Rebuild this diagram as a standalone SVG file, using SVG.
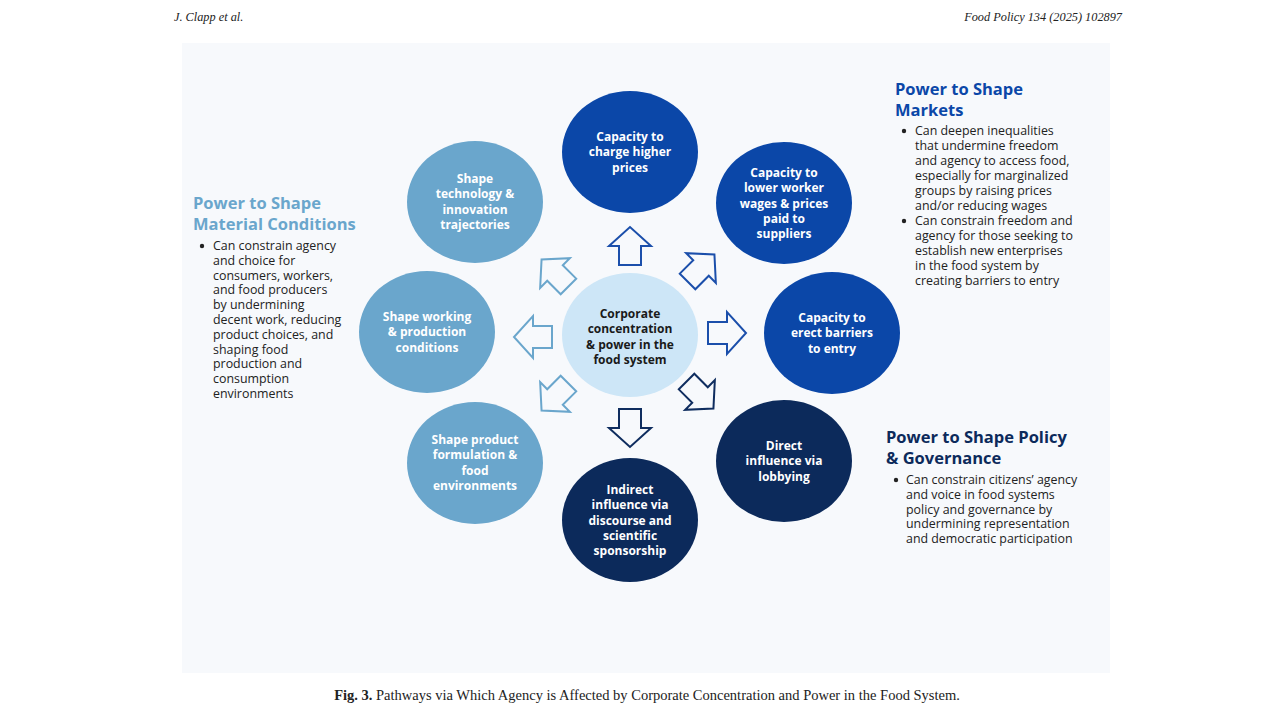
<svg xmlns="http://www.w3.org/2000/svg" width="1280" height="720" viewBox="0 0 1280 720">
<style>
.hdr{font-family:"Liberation Serif",serif;font-style:italic;font-size:12.3px;fill:#222}
.cap{font-family:"Liberation Serif",serif;font-size:14.5px;fill:#222}
.nt{font-family:"Open Sans",Lato,sans-serif;font-weight:700;font-size:12px;fill:#fff;text-anchor:middle}
.ct{font-family:"Open Sans",Lato,sans-serif;font-weight:700;font-size:12px;fill:#1a1a1a;text-anchor:middle}
.royal{fill:#0b47a8}
.navy{fill:#0c2a5b}
.light{fill:#6aa6cc}
.center{fill:#cde6f7}
.arr{fill:#f7f9fc;stroke-width:2;stroke-linejoin:miter}
.ar{stroke:#1b4fab}
.an{stroke:#0f2d5f}
.al{stroke:#6aa6cc}
.h{font-family:"Open Sans",Lato,sans-serif;font-weight:700;font-size:16.5px}
.b{font-family:"Open Sans",Lato,sans-serif;font-size:12.4px;fill:#222}
</style>
<defs>
<path id="arrow" d="M-19,-11 H0 V-21 L19,0 L0,21 V11 H-19 Z"/>
</defs>
<rect width="1280" height="720" fill="#ffffff"/>
<text class="hdr" x="174" y="21">J. Clapp et al.</text>
<text class="hdr" x="1122" y="21" text-anchor="end">Food Policy 134 (2025) 102897</text>
<rect x="182" y="43" width="928" height="630" fill="#f7f9fc"/>

<g id="connectors">
<use href="#arrow" class="arr ar" transform="translate(630,246) rotate(-90)"/>
<use href="#arrow" class="arr ar" transform="translate(701,268) rotate(-45)"/>
<use href="#arrow" class="arr ar" transform="translate(727,333)"/>
<use href="#arrow" class="arr an" transform="translate(700,395) rotate(45)"/>
<use href="#arrow" class="arr an" transform="translate(630,428) rotate(90)"/>
<use href="#arrow" class="arr al" transform="translate(555,397) rotate(135)"/>
<use href="#arrow" class="arr al" transform="translate(533,337) rotate(180)"/>
<use href="#arrow" class="arr al" transform="translate(555,273) rotate(-135)"/>
</g>

<g id="node-center">
<ellipse class="center" cx="630" cy="335" rx="68" ry="62"/>
<text class="ct" x="630" y="318"><tspan x="630">Corporate</tspan><tspan x="630" dy="15.3">concentration</tspan><tspan x="630" dy="15.3">&amp; power in the</tspan><tspan x="630" dy="15.3">food system</tspan></text>
</g>
<g id="node-prices">
<ellipse class="royal" cx="630" cy="152" rx="68" ry="61"/>
<text class="nt" x="630" y="141"><tspan x="630">Capacity to</tspan><tspan x="630" dy="15.3">charge higher</tspan><tspan x="630" dy="15.3">prices</tspan></text>
</g>
<g id="node-wages">
<ellipse class="royal" cx="784" cy="203" rx="68" ry="61"/>
<text class="nt" x="784" y="177"><tspan x="784">Capacity to</tspan><tspan x="784" dy="15.3">lower worker</tspan><tspan x="784" dy="15.3">wages &amp; prices</tspan><tspan x="784" dy="15.3">paid to</tspan><tspan x="784" dy="15.3">suppliers</tspan></text>
</g>
<g id="node-barriers">
<ellipse class="royal" cx="832" cy="333" rx="68" ry="61"/>
<text class="nt" x="832" y="322"><tspan x="832">Capacity to</tspan><tspan x="832" dy="15.3">erect barriers</tspan><tspan x="832" dy="15.3">to entry</tspan></text>
</g>
<g id="node-lobbying">
<ellipse class="navy" cx="784" cy="461" rx="68" ry="61"/>
<text class="nt" x="784" y="450"><tspan x="784">Direct</tspan><tspan x="784" dy="15.3">influence via</tspan><tspan x="784" dy="15.3">lobbying</tspan></text>
</g>
<g id="node-discourse">
<ellipse class="navy" cx="630" cy="520" rx="68" ry="62"/>
<text class="nt" x="630" y="494"><tspan x="630">Indirect</tspan><tspan x="630" dy="15.3">influence via</tspan><tspan x="630" dy="15.3">discourse and</tspan><tspan x="630" dy="15.3">scientific</tspan><tspan x="630" dy="15.3">sponsorship</tspan></text>
</g>
<g id="node-product">
<ellipse class="light" cx="475" cy="463" rx="68" ry="61"/>
<text class="nt" x="475" y="444"><tspan x="475">Shape product</tspan><tspan x="475" dy="15.3">formulation &amp;</tspan><tspan x="475" dy="15.3">food</tspan><tspan x="475" dy="15.3">environments</tspan></text>
</g>
<g id="node-working">
<ellipse class="light" cx="427" cy="332" rx="68" ry="61"/>
<text class="nt" x="427" y="321"><tspan x="427">Shape working</tspan><tspan x="427" dy="15.3">&amp; production</tspan><tspan x="427" dy="15.3">conditions</tspan></text>
</g>
<g id="node-technology">
<ellipse class="light" cx="475" cy="202" rx="68" ry="61"/>
<text class="nt" x="475" y="183"><tspan x="475">Shape</tspan><tspan x="475" dy="15.3">technology &amp;</tspan><tspan x="475" dy="15.3">innovation</tspan><tspan x="475" dy="15.3">trajectories</tspan></text>
</g>

<g id="legend-material">
<text class="h" fill="#6aa6cc" x="193" y="209"><tspan x="193">Power to Shape</tspan><tspan x="193" dy="21">Material Conditions</tspan></text>
<circle cx="202" cy="246" r="2.2" fill="#222"/>
<text class="b" x="213" y="250"><tspan x="213">Can constrain agency</tspan><tspan x="213" dy="14.8">and choice for</tspan><tspan x="213" dy="14.8">consumers, workers,</tspan><tspan x="213" dy="14.8">and food producers</tspan><tspan x="213" dy="14.8">by undermining</tspan><tspan x="213" dy="14.8">decent work, reducing</tspan><tspan x="213" dy="14.8">product choices, and</tspan><tspan x="213" dy="14.8">shaping food</tspan><tspan x="213" dy="14.8">production and</tspan><tspan x="213" dy="14.8">consumption</tspan><tspan x="213" dy="14.8">environments</tspan></text>
</g>
<g id="legend-markets">
<text class="h" fill="#0b47a8" x="895" y="95"><tspan x="895">Power to Shape</tspan><tspan x="895" dy="21">Markets</tspan></text>
<circle cx="904" cy="131" r="2.2" fill="#222"/>
<text class="b" x="915" y="135"><tspan x="915">Can deepen inequalities</tspan><tspan x="915" dy="14.9">that undermine freedom</tspan><tspan x="915" dy="14.9">and agency to access food,</tspan><tspan x="915" dy="14.9">especially for marginalized</tspan><tspan x="915" dy="14.9">groups by raising prices</tspan><tspan x="915" dy="14.9">and/or reducing wages</tspan></text>
<circle cx="904" cy="221" r="2.2" fill="#222"/>
<text class="b" x="915" y="225"><tspan x="915">Can constrain freedom and</tspan><tspan x="915" dy="14.9">agency for those seeking to</tspan><tspan x="915" dy="14.9">establish new enterprises</tspan><tspan x="915" dy="14.9">in the food system by</tspan><tspan x="915" dy="14.9">creating barriers to entry</tspan></text>
</g>
<g id="legend-policy">
<text class="h" fill="#0c2a5b" x="886" y="443"><tspan x="886">Power to Shape Policy</tspan><tspan x="886" dy="21">&amp; Governance</tspan></text>
<circle cx="896" cy="480" r="2.2" fill="#222"/>
<text class="b" x="906" y="484"><tspan x="906">Can constrain citizens’ agency</tspan><tspan x="906" dy="14.8">and voice in food systems</tspan><tspan x="906" dy="14.8">policy and governance by</tspan><tspan x="906" dy="14.8">undermining representation</tspan><tspan x="906" dy="14.8">and democratic participation</tspan></text>
</g>

<text class="cap" x="647" y="700" text-anchor="middle"><tspan font-weight="700">Fig. 3.</tspan> Pathways via Which Agency is Affected by Corporate Concentration and Power in the Food System.</text>
</svg>
